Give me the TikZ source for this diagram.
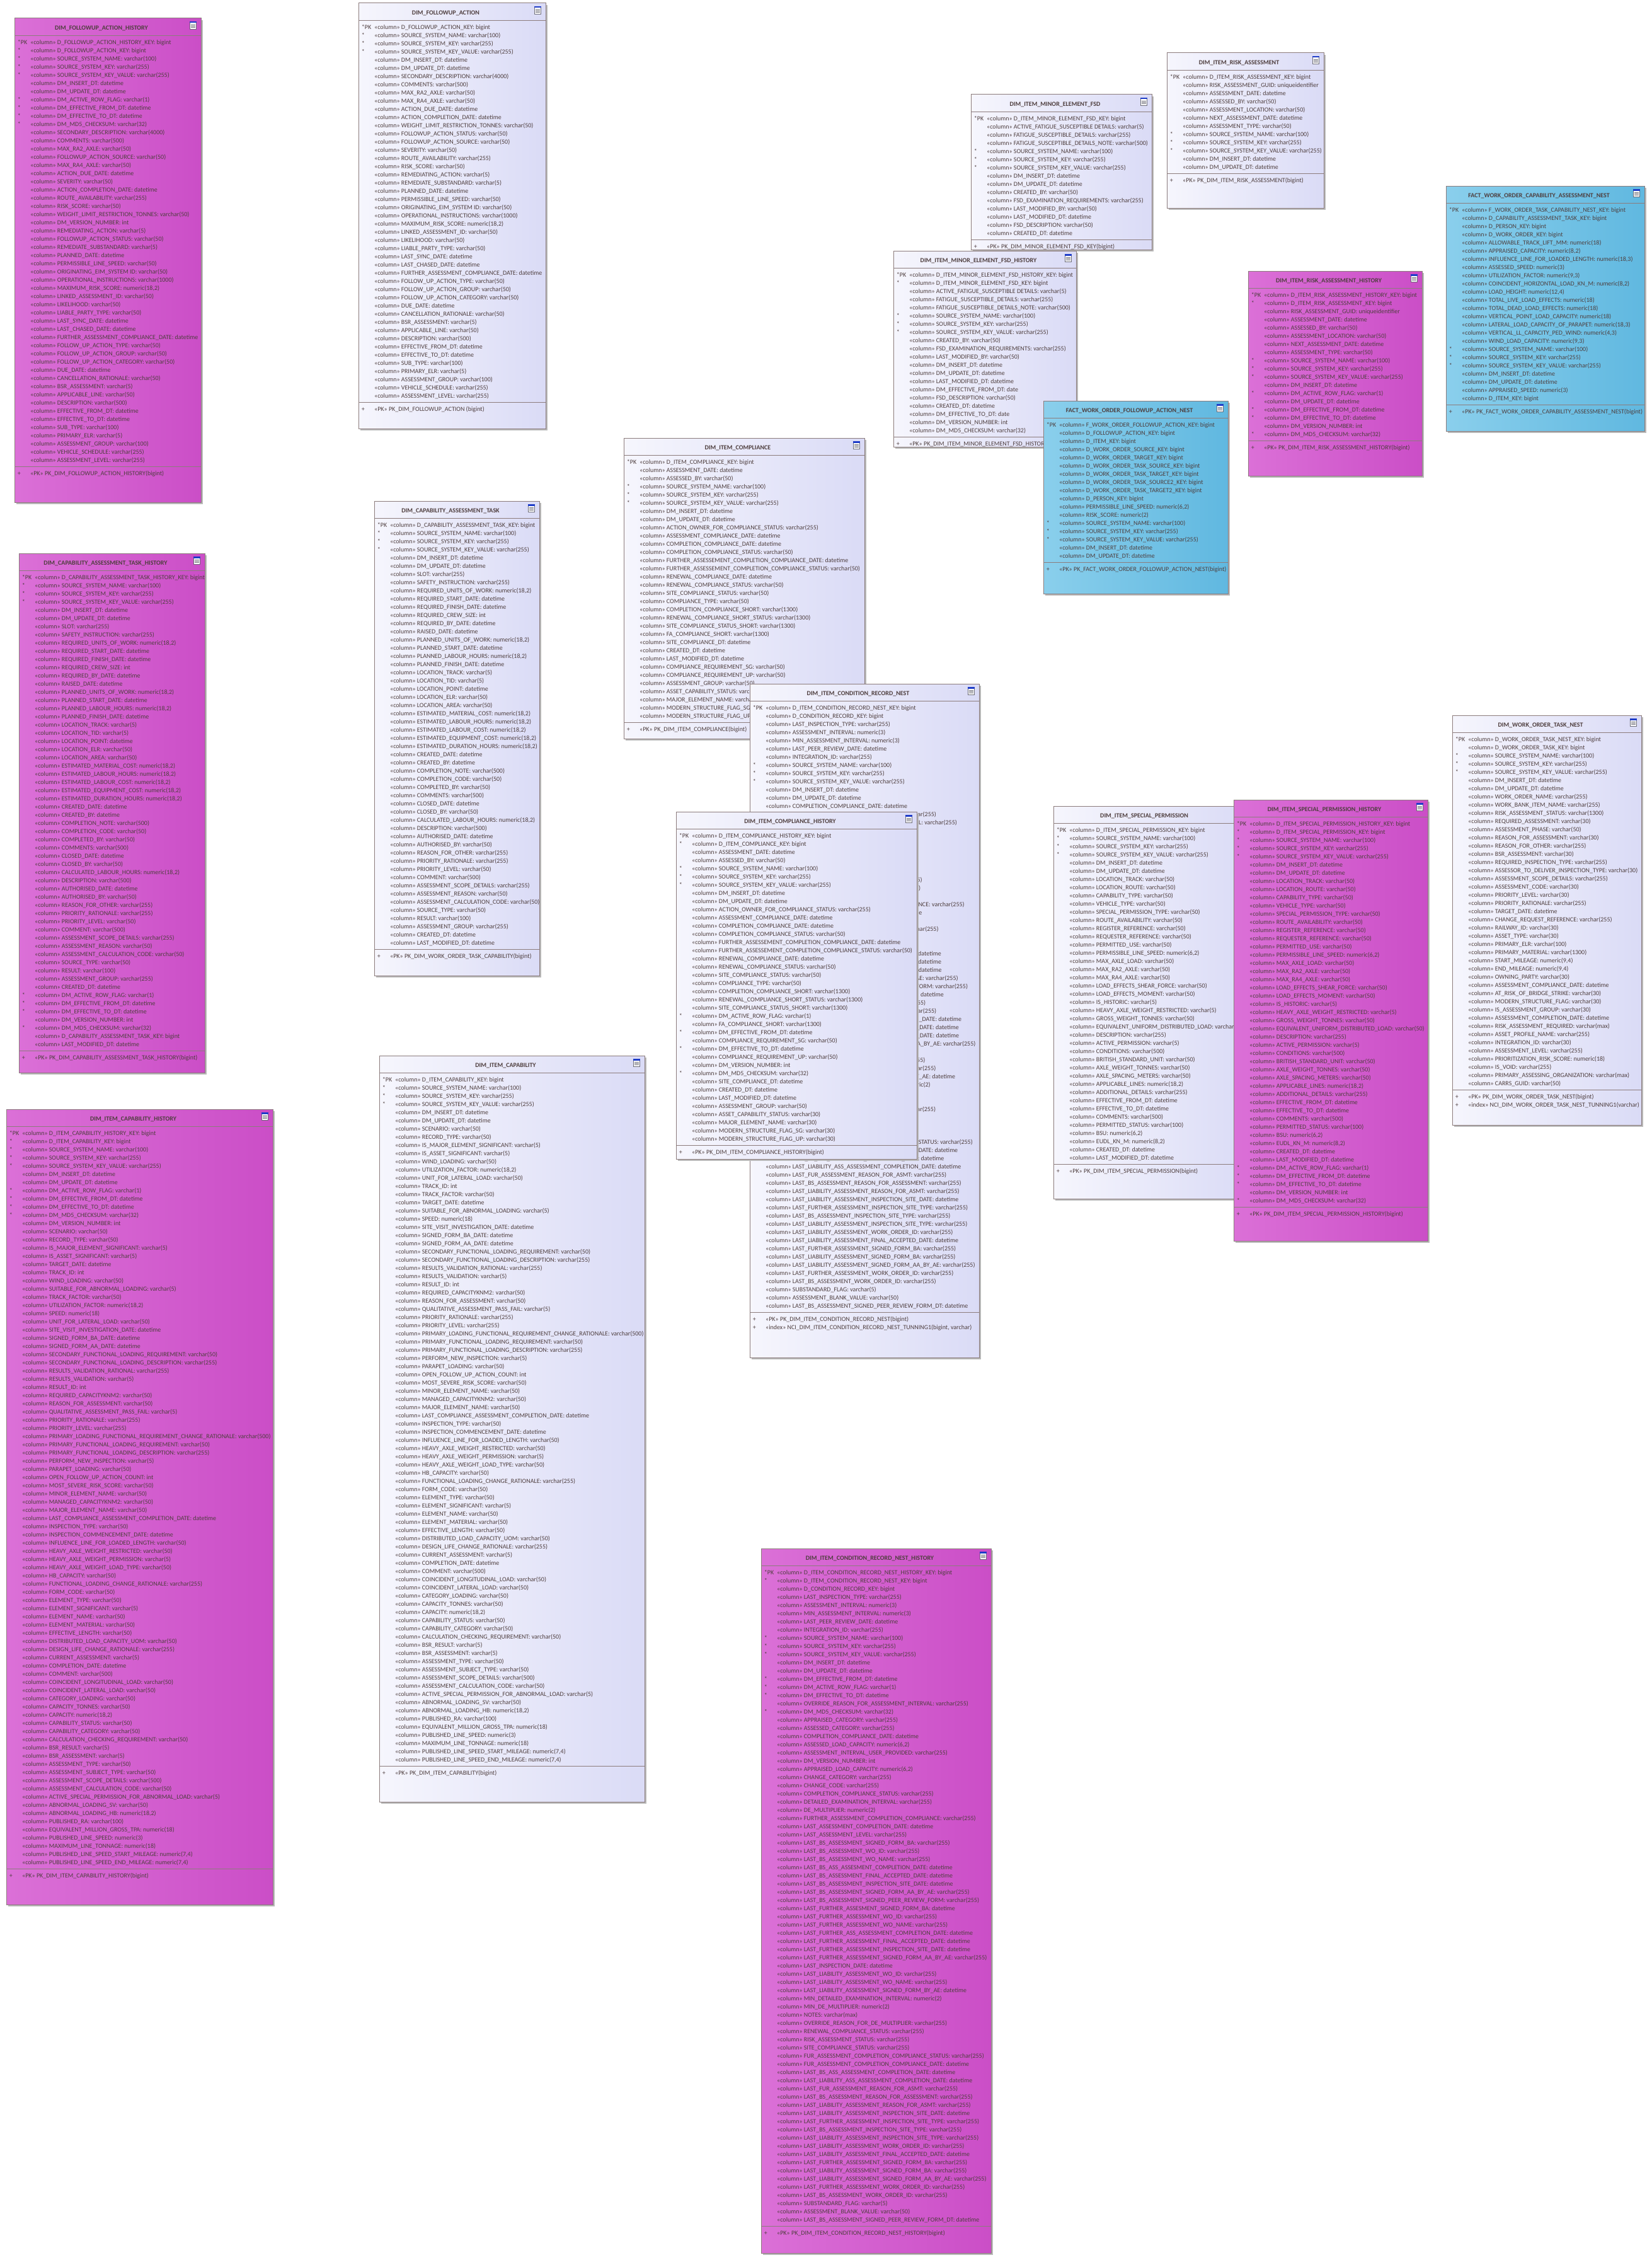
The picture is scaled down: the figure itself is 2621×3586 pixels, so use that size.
\documentclass[tikz,border=0pt]{standalone}
\usepackage{fontspec}
\setmainfont{Carlito}
\definecolor{lavL}{RGB}{246,246,253}
\definecolor{lavR}{RGB}{218,219,246}
\definecolor{magL}{RGB}{219,112,215}
\definecolor{magR}{RGB}{203,78,199}
\definecolor{cyaL}{RGB}{138,207,236}
\definecolor{cyaR}{RGB}{96,184,224}
\definecolor{borderc}{RGB}{140,124,124}
\definecolor{txtc}{RGB}{78,62,62}
\definecolor{shadowc}{RGB}{185,185,185}
\definecolor{iconblue}{RGB}{30,60,200}
\definecolor{iconframe}{RGB}{110,110,120}
\tikzset{
  tbox/.style={draw=borderc,line width=1pt,anchor=north west,inner sep=0pt,outer sep=0pt},
  lav/.style={left color=lavL,right color=lavR},
  mag/.style={left color=magL,right color=magR},
  cya/.style={left color=cyaL,right color=cyaR},
  sepline/.style={draw=borderc,line width=0.9pt},
  iconline/.style={draw=iconframe,line width=0.6pt},
  titletext/.style={anchor=base,inner sep=0pt,text=txtc,font=\fontsize{10}{13}\selectfont\bfseries},
  rowtext/.style={anchor=base west,inner sep=0pt,text=txtc,font=\fontsize{10}{13}\selectfont}
}
\newcommand\rA{\makebox[20.3pt][l]{}«column»\ }
\newcommand\rS{\makebox[20.3pt][l]{*}«column»\ }
\newcommand\rP{\makebox[20.3pt][l]{*PK}«column»\ }
\newcommand\rK{\makebox[20.3pt][l]{+}«PK»\ }
\newcommand\rI{\makebox[20.3pt][l]{+}«index»\ }
\newcommand\dbbox[8]{%
  \pgfmathsetmacro\dbw{#4-#2}%
  \pgfmathsetmacro\dbh{#5-#3}%
  \pgfmathsetmacro\dbs{#3+35+13*#8}%
  \pgfmathsetmacro\dbx{(#2+#4)/2-10}%
  \pgfmathsetmacro\dbi{#4-18}%
  \fill[shadowc] (#2+3,#3+3) rectangle (#4+3,#5+3);
  \node[tbox,#6,minimum width=\dbw pt,minimum height=\dbh pt] (#1) at (#2,#3) {};
  \draw[sepline] (#2,#3+27) -- (#4,#3+27) (#2,\dbs) -- (#4,\dbs);
  \node[titletext] (#1-title) at (\dbx,#3+18.3) {#7};
  \filldraw[fill=white,draw=iconframe,line width=0.7pt] (\dbi,#3+6) rectangle (\dbi+10.5,#3+17);
  \fill[iconblue] (\dbi,#3+5.3) rectangle (\dbi+10.5,#3+7.5);
  \draw[iconline] (\dbi+2,#3+10) -- (\dbi+8.5,#3+10) (\dbi+2,#3+12.3) -- (\dbi+8.5,#3+12.3) (\dbi+2,#3+14.6) -- (\dbi+8.5,#3+14.6);
}
\newcommand\dbrows[4]{%
  \node[rowtext] (#1-rows) at (#2+4.7,#3+41.3) {\begin{tabular}[t]{@{}l@{}}#4\end{tabular}};}
\newcommand\dbpk[5]{%
  \pgfmathsetmacro\dbp{#3+35+13*#4+14.3}%
  \node[rowtext] (#1-pk) at (#2+4.7,\dbp) {\begin{tabular}[t]{@{}l@{}}#5\end{tabular}};}
\begin{document}
\catcode`\_=12
\begin{tikzpicture}[x=1pt,y=-1pt]
\useasboundingbox (0,0) rectangle (2621,3586);
\fill[white] (0,0) rectangle (2621,3586);

% ---------- DIM_FOLLOWUP_ACTION_HISTORY
\dbbox{fah}{23}{29}{319}{797}{mag}{DIM_FOLLOWUP_ACTION_HISTORY}{52}
\dbrows{fah}{23}{29}{\rP D_FOLLOWUP_ACTION_HISTORY_KEY: bigint\\
\rS D_FOLLOWUP_ACTION_KEY: bigint\\
\rS SOURCE_SYSTEM_NAME: varchar(100)\\
\rS SOURCE_SYSTEM_KEY: varchar(255)\\
\rS SOURCE_SYSTEM_KEY_VALUE: varchar(255)\\
\rA DM_INSERT_DT: datetime\\
\rA DM_UPDATE_DT: datetime\\
\rS DM_ACTIVE_ROW_FLAG: varchar(1)\\
\rS DM_EFFECTIVE_FROM_DT: datetime\\
\rS DM_EFFECTIVE_TO_DT: datetime\\
\rS DM_MD5_CHECKSUM: varchar(32)\\
\rA SECONDARY_DESCRIPTION: varchar(4000)\\
\rA COMMENTS: varchar(500)\\
\rA MAX_RA2_AXLE: varchar(50)\\
\rA FOLLOWUP_ACTION_SOURCE: varchar(50)\\
\rA MAX_RA4_AXLE: varchar(50)\\
\rA ACTION_DUE_DATE: datetime\\
\rA SEVERITY: varchar(50)\\
\rA ACTION_COMPLETION_DATE: datetime\\
\rA ROUTE_AVAILABILITY: varchar(255)\\
\rA RISK_SCORE: varchar(50)\\
\rA WEIGHT_LIMIT_RESTRICTION_TONNES: varchar(50)\\
\rA DM_VERSION_NUMBER: int\\
\rA REMEDIATING_ACTION: varchar(5)\\
\rA FOLLOWUP_ACTION_STATUS: varchar(50)\\
\rA REMEDIATE_SUBSTANDARD: varchar(5)\\
\rA PLANNED_DATE: datetime\\
\rA PERMISSIBLE_LINE_SPEED: varchar(50)\\
\rA ORIGINATING_EIM_SYSTEM ID: varchar(50)\\
\rA OPERATIONAL_INSTRUCTIONS: varchar(1000)\\
\rA MAXIMUM_RISK_SCORE: numeric(18,2)\\
\rA LINKED_ASSESSMENT_ID: varchar(50)\\
\rA LIKELIHOOD: varchar(50)\\
\rA LIABLE_PARTY_TYPE: varchar(50)\\
\rA LAST_SYNC_DATE: datetime\\
\rA LAST_CHASED_DATE: datetime\\
\rA FURTHER_ASSESSMENT_COMPLIANCE_DATE: datetime\\
\rA FOLLOW_UP_ACTION_TYPE: varchar(50)\\
\rA FOLLOW_UP_ACTION_GROUP: varchar(50)\\
\rA FOLLOW_UP_ACTION_CATEGORY: varchar(50)\\
\rA DUE_DATE: datetime\\
\rA CANCELLATION_RATIONALE: varchar(50)\\
\rA BSR_ASSESSMENT: varchar(5)\\
\rA APPLICABLE_LINE: varchar(50)\\
\rA DESCRIPTION: varchar(500)\\
\rA EFFECTIVE_FROM_DT: datetime\\
\rA EFFECTIVE_TO_DT: datetime\\
\rA SUB_TYPE: varchar(100)\\
\rA PRIMARY_ELR: varchar(5)\\
\rA ASSESSMENT_GROUP: varchar(100)\\
\rA VEHICLE_SCHEDULE: varchar(255)\\
\rA ASSESSMENT_LEVEL: varchar(255)}
\dbpk{fah}{23}{29}{52}{\rK PK_DIM_FOLLOWUP_ACTION_HISTORY(bigint)}

% ---------- DIM_FOLLOWUP_ACTION
\dbbox{fa}{569}{5}{866}{680}{lav}{DIM_FOLLOWUP_ACTION}{46}
\dbrows{fa}{569}{5}{\rP D_FOLLOWUP_ACTION_KEY: bigint\\
\rS SOURCE_SYSTEM_NAME: varchar(100)\\
\rS SOURCE_SYSTEM_KEY: varchar(255)\\
\rS SOURCE_SYSTEM_KEY_VALUE: varchar(255)\\
\rA DM_INSERT_DT: datetime\\
\rA DM_UPDATE_DT: datetime\\
\rA SECONDARY_DESCRIPTION: varchar(4000)\\
\rA COMMENTS: varchar(500)\\
\rA MAX_RA2_AXLE: varchar(50)\\
\rA MAX_RA4_AXLE: varchar(50)\\
\rA ACTION_DUE_DATE: datetime\\
\rA ACTION_COMPLETION_DATE: datetime\\
\rA WEIGHT_LIMIT_RESTRICTION_TONNES: varchar(50)\\
\rA FOLLOWUP_ACTION_STATUS: varchar(50)\\
\rA FOLLOWUP_ACTION_SOURCE: varchar(50)\\
\rA SEVERITY: varchar(50)\\
\rA ROUTE_AVAILABILITY: varchar(255)\\
\rA RISK_SCORE: varchar(50)\\
\rA REMEDIATING_ACTION: varchar(5)\\
\rA REMEDIATE_SUBSTANDARD: varchar(5)\\
\rA PLANNED_DATE: datetime\\
\rA PERMISSIBLE_LINE_SPEED: varchar(50)\\
\rA ORIGINATING_EIM_SYSTEM ID: varchar(50)\\
\rA OPERATIONAL_INSTRUCTIONS: varchar(1000)\\
\rA MAXIMUM_RISK_SCORE: numeric(18,2)\\
\rA LINKED_ASSESSMENT_ID: varchar(50)\\
\rA LIKELIHOOD: varchar(50)\\
\rA LIABLE_PARTY_TYPE: varchar(50)\\
\rA LAST_SYNC_DATE: datetime\\
\rA LAST_CHASED_DATE: datetime\\
\rA FURTHER_ASSESSMENT_COMPLIANCE_DATE: datetime\\
\rA FOLLOW_UP_ACTION_TYPE: varchar(50)\\
\rA FOLLOW_UP_ACTION_GROUP: varchar(50)\\
\rA FOLLOW_UP_ACTION_CATEGORY: varchar(50)\\
\rA DUE_DATE: datetime\\
\rA CANCELLATION_RATIONALE: varchar(50)\\
\rA BSR_ASSESSMENT: varchar(5)\\
\rA APPLICABLE_LINE: varchar(50)\\
\rA DESCRIPTION: varchar(500)\\
\rA EFFECTIVE_FROM_DT: datetime\\
\rA EFFECTIVE_TO_DT: datetime\\
\rA SUB_TYPE: varchar(100)\\
\rA PRIMARY_ELR: varchar(5)\\
\rA ASSESSMENT_GROUP: varchar(100)\\
\rA VEHICLE_SCHEDULE: varchar(255)\\
\rA ASSESSMENT_LEVEL: varchar(255)}
\dbpk{fa}{569}{5}{46}{\rK PK_DIM_FOLLOWUP_ACTION (bigint)}

% ---------- DIM_ITEM_MINOR_ELEMENT_FSD
\dbbox{mfsd}{1541}{150}{1828}{396}{lav}{DIM_ITEM_MINOR_ELEMENT_FSD}{15}
\dbrows{mfsd}{1541}{150}{\rP D_ITEM_MINOR_ELEMENT_FSD_KEY: bigint\\
\rA ACTIVE_FATIGUE_SUSCEPTIBLE DETAILS: varchar(5)\\
\rA FATIGUE_SUSCEPTIBLE_DETAILS: varchar(255)\\
\rA FATIGUE_SUSCEPTIBLE_DETAILS_NOTE: varchar(500)\\
\rS SOURCE_SYSTEM_NAME: varchar(100)\\
\rS SOURCE_SYSTEM_KEY: varchar(255)\\
\rS SOURCE_SYSTEM_KEY_VALUE: varchar(255)\\
\rA DM_INSERT_DT: datetime\\
\rA DM_UPDATE_DT: datetime\\
\rA CREATED_BY: varchar(50)\\
\rA FSD_EXAMINATION_REQUIREMENTS: varchar(255)\\
\rA LAST_MODIFIED_BY: varchar(50)\\
\rA LAST_MODIFIED_DT: datetime\\
\rA FSD_DESCRIPTION: varchar(50)\\
\rA CREATED_DT: datetime}
\dbpk{mfsd}{1541}{150}{15}{\rK PK_DIM_MINOR_ELEMENT_FSD_KEY(bigint)}

% ---------- DIM_ITEM_RISK_ASSESSMENT
\dbbox{risk}{1852}{84}{2101}{330}{lav}{DIM_ITEM_RISK_ASSESSMENT}{12}
\dbrows{risk}{1852}{84}{\rP D_ITEM_RISK_ASSESSMENT_KEY: bigint\\
\rA RISK_ASSESSMENT_GUID: uniqueidentifier\\
\rA ASSESSMENT_DATE: datetime\\
\rA ASSESSED_BY: varchar(50)\\
\rA ASSESSMENT_LOCATION: varchar(50)\\
\rA NEXT_ASSESSMENT_DATE: datetime\\
\rA ASSESSMENT_TYPE: varchar(50)\\
\rS SOURCE_SYSTEM_NAME: varchar(100)\\
\rS SOURCE_SYSTEM_KEY: varchar(255)\\
\rS SOURCE_SYSTEM_KEY_VALUE: varchar(255)\\
\rA DM_INSERT_DT: datetime\\
\rA DM_UPDATE_DT: datetime}
\dbpk{risk}{1852}{84}{12}{\rK PK_DIM_ITEM_RISK_ASSESSMENT(bigint)}

% ---------- FACT_WORK_ORDER_CAPABILITY_ASSESSMENT_NEST
\dbbox{fcap}{2295}{295}{2610}{684}{cya}{FACT_WORK_ORDER_CAPABILITY_ASSESSMENT_NEST}{24}
\dbrows{fcap}{2295}{295}{\rP F_WORK_ORDER_TASK_CAPABILITY_NEST_KEY: bigint\\
\rA D_CAPABILITY_ASSESSMENT_TASK_KEY: bigint\\
\rA D_PERSON_KEY: bigint\\
\rA D_WORK_ORDER_KEY: bigint\\
\rA ALLOWABLE_TRACK_LIFT_MM: numeric(18)\\
\rA APPRAISED_CAPACITY: numeric(8,2)\\
\rA INFLUENCE_LINE_FOR_LOADED_LENGTH: numeric(18,3)\\
\rA ASSESSED_SPEED: numeric(3)\\
\rA UTILIZATION_FACTOR: numeric(9,3)\\
\rA COINCIDENT_HORIZONTAL_LOAD_KN_M: numeric(8,2)\\
\rA LOAD_HEIGHT: numeric(12,4)\\
\rA TOTAL_LIVE_LOAD_EFFECTS: numeric(18)\\
\rA TOTAL_DEAD_LOAD_EFFECTS: numeric(18)\\
\rA VERTICAL_POINT_LOAD_CAPACITY: numeric(18)\\
\rA LATERAL_LOAD_CAPACITY_OF_PARAPET: numeric(18,3)\\
\rA VERTICAL_LL_CAPACITY_PED_WIND: numeric(4,3)\\
\rA WIND_LOAD_CAPACITY: numeric(9,3)\\
\rS SOURCE_SYSTEM_NAME: varchar(100)\\
\rS SOURCE_SYSTEM_KEY: varchar(255)\\
\rS SOURCE_SYSTEM_KEY_VALUE: varchar(255)\\
\rA DM_INSERT_DT: datetime\\
\rA DM_UPDATE_DT: datetime\\
\rA APPRAISED_SPEED: numeric(3)\\
\rA D_ITEM_KEY: bigint}
\dbpk{fcap}{2295}{295}{24}{\rK PK_FACT_WORK_ORDER_CAPABILITY_ASSESSMENT_NEST(bigint)}

% ---------- DIM_ITEM_RISK_ASSESSMENT_HISTORY
\dbbox{riskh}{1981}{430}{2257}{755}{mag}{DIM_ITEM_RISK_ASSESSMENT_HISTORY}{18}
\dbrows{riskh}{1981}{430}{\rP D_ITEM_RISK_ASSESSMENT_HISTORY_KEY: bigint\\
\rS D_ITEM_RISK_ASSESSMENT_KEY: bigint\\
\rA RISK_ASSESSMENT_GUID: uniqueidentifier\\
\rA ASSESSMENT_DATE: datetime\\
\rA ASSESSED_BY: varchar(50)\\
\rA ASSESSMENT_LOCATION: varchar(50)\\
\rA NEXT_ASSESSMENT_DATE: datetime\\
\rA ASSESSMENT_TYPE: varchar(50)\\
\rS SOURCE_SYSTEM_NAME: varchar(100)\\
\rS SOURCE_SYSTEM_KEY: varchar(255)\\
\rS SOURCE_SYSTEM_KEY_VALUE: varchar(255)\\
\rA DM_INSERT_DT: datetime\\
\rS DM_ACTIVE_ROW_FLAG: varchar(1)\\
\rA DM_UPDATE_DT: datetime\\
\rS DM_EFFECTIVE_FROM_DT: datetime\\
\rS DM_EFFECTIVE_TO_DT: datetime\\
\rA DM_VERSION_NUMBER: int\\
\rS DM_MD5_CHECKSUM: varchar(32)}
\dbpk{riskh}{1981}{430}{18}{\rK PK_DIM_ITEM_RISK_ASSESSMENT_HISTORY(bigint)}

% ---------- DIM_ITEM_MINOR_ELEMENT_FSD_HISTORY
\dbbox{mfsdh}{1418}{398}{1708}{709}{lav}{DIM_ITEM_MINOR_ELEMENT_FSD_HISTORY}{20}
\dbrows{mfsdh}{1418}{398}{\rP D_ITEM_MINOR_ELEMENT_FSD_HISTORY_KEY: bigint\\
\rS D_ITEM_MINOR_ELEMENT_FSD_KEY: bigint\\
\rA ACTIVE_FATIGUE_SUSCEPTIBLE DETAILS: varchar(5)\\
\rA FATIGUE_SUSCEPTIBLE_DETAILS: varchar(255)\\
\rA FATIGUE_SUSCEPTIBLE_DETAILS_NOTE: varchar(500)\\
\rS SOURCE_SYSTEM_NAME: varchar(100)\\
\rS SOURCE_SYSTEM_KEY: varchar(255)\\
\rS SOURCE_SYSTEM_KEY_VALUE: varchar(255)\\
\rA CREATED_BY: varchar(50)\\
\rA FSD_EXAMINATION_REQUIREMENTS: varchar(255)\\
\rA LAST_MODIFIED_BY: varchar(50)\\
\rA DM_INSERT_DT: datetime\\
\rA DM_UPDATE_DT: datetime\\
\rA LAST_MODIFIED_DT: datetime\\
\rA DM_EFFECTIVE_FROM_DT: date\\
\rA FSD_DESCRIPTION: varchar(50)\\
\rA CREATED_DT: datetime\\
\rA DM_EFFECTIVE_TO_DT: date\\
\rA DM_VERSION_NUMBER: int\\
\rA DM_MD5_CHECKSUM: varchar(32)}
\dbpk{mfsdh}{1418}{398}{20}{\rK PK_DIM_ITEM_MINOR_ELEMENT_FSD_HISTORY(bigint)}

% ---------- FACT_WORK_ORDER_FOLLOWUP_ACTION_NEST
\dbbox{ffu}{1656}{636}{1949}{942}{cya}{FACT_WORK_ORDER_FOLLOWUP_ACTION_NEST}{17}
\dbrows{ffu}{1656}{636}{\rP F_WORK_ORDER_FOLLOWUP_ACTION_KEY: bigint\\
\rA D_FOLLOWUP_ACTION_KEY: bigint\\
\rA D_ITEM_KEY: bigint\\
\rA D_WORK_ORDER_SOURCE_KEY: bigint\\
\rA D_WORK_ORDER_TARGET_KEY: bigint\\
\rA D_WORK_ORDER_TASK_SOURCE_KEY: bigint\\
\rA D_WORK_ORDER_TASK_TARGET_KEY: bigint\\
\rA D_WORK_ORDER_TASK_SOURCE2_KEY: bigint\\
\rA D_WORK_ORDER_TASK_TARGET2_KEY: bigint\\
\rA D_PERSON_KEY: bigint\\
\rA PERMISSIBLE_LINE_SPEED: numeric(6,2)\\
\rA RISK_SCORE: numeric(2)\\
\rS SOURCE_SYSTEM_NAME: varchar(100)\\
\rS SOURCE_SYSTEM_KEY: varchar(255)\\
\rS SOURCE_SYSTEM_KEY_VALUE: varchar(255)\\
\rA DM_INSERT_DT: datetime\\
\rA DM_UPDATE_DT: datetime}
\dbpk{ffu}{1656}{636}{17}{\rK PK_FACT_WORK_ORDER_FOLLOWUP_ACTION_NEST(bigint)}

% ---------- DIM_CAPABILITY_ASSESSMENT_TASK
\dbbox{cat}{594}{795}{856}{1548}{lav}{DIM_CAPABILITY_ASSESSMENT_TASK}{52}
\dbrows{cat}{594}{795}{\rP D_CAPABILITY_ASSESSMENT_TASK_KEY: bigint\\
\rS SOURCE_SYSTEM_NAME: varchar(100)\\
\rS SOURCE_SYSTEM_KEY: varchar(255)\\
\rS SOURCE_SYSTEM_KEY_VALUE: varchar(255)\\
\rA DM_INSERT_DT: datetime\\
\rA DM_UPDATE_DT: datetime\\
\rA SLOT: varchar(255)\\
\rA SAFETY_INSTRUCTION: varchar(255)\\
\rA REQUIRED_UNITS_OF_WORK: numeric(18,2)\\
\rA REQUIRED_START_DATE: datetime\\
\rA REQUIRED_FINISH_DATE: datetime\\
\rA REQUIRED_CREW_SIZE: int\\
\rA REQUIRED_BY_DATE: datetime\\
\rA RAISED_DATE: datetime\\
\rA PLANNED_UNITS_OF_WORK: numeric(18,2)\\
\rA PLANNED_START_DATE: datetime\\
\rA PLANNED_LABOUR_HOURS: numeric(18,2)\\
\rA PLANNED_FINISH_DATE: datetime\\
\rA LOCATION_TRACK: varchar(5)\\
\rA LOCATION_TID: varchar(5)\\
\rA LOCATION_POINT: datetime\\
\rA LOCATION_ELR: varchar(50)\\
\rA LOCATION_AREA: varchar(50)\\
\rA ESTIMATED_MATERIAL_COST: numeric(18,2)\\
\rA ESTIMATED_LABOUR_HOURS: numeric(18,2)\\
\rA ESTIMATED_LABOUR_COST: numeric(18,2)\\
\rA ESTIMATED_EQUIPMENT_COST: numeric(18,2)\\
\rA ESTIMATED_DURATION_HOURS: numeric(18,2)\\
\rA CREATED_DATE: datetime\\
\rA CREATED_BY: datetime\\
\rA COMPLETION_NOTE: varchar(500)\\
\rA COMPLETION_CODE: varchar(50)\\
\rA COMPLETED_BY: varchar(50)\\
\rA COMMENTS: varchar(500)\\
\rA CLOSED_DATE: datetime\\
\rA CLOSED_BY: varchar(50)\\
\rA CALCULATED_LABOUR_HOURS: numeric(18,2)\\
\rA DESCRIPTION: varchar(500)\\
\rA AUTHORISED_DATE: datetime\\
\rA AUTHORISED_BY: varchar(50)\\
\rA REASON_FOR_OTHER: varchar(255)\\
\rA PRIORITY_RATIONALE: varchar(255)\\
\rA PRIORITY_LEVEL: varchar(50)\\
\rA COMMENT: varchar(500)\\
\rA ASSESSMENT_SCOPE_DETAILS: varchar(255)\\
\rA ASSESSMENT_REASON: varchar(50)\\
\rA ASSESSMENT_CALCULATION_CODE: varchar(50)\\
\rA SOURCE_TYPE: varchar(50)\\
\rA RESULT: varchar(100)\\
\rA ASSESSMENT_GROUP: varchar(255)\\
\rA CREATED_DT: datetime\\
\rA LAST_MODIFIED_DT: datetime}
\dbpk{cat}{594}{795}{52}{\rK PK_DIM_WORK_ORDER_TASK_CAPABILITY(bigint)}

% ---------- DIM_CAPABILITY_ASSESSMENT_TASK_HISTORY
\dbbox{cath}{30}{878}{325}{1702}{mag}{DIM_CAPABILITY_ASSESSMENT_TASK_HISTORY}{58}
\dbrows{cath}{30}{878}{\rP D_CAPABILITY_ASSESSMENT_TASK_HISTORY_KEY: bigint\\
\rS SOURCE_SYSTEM_NAME: varchar(100)\\
\rS SOURCE_SYSTEM_KEY: varchar(255)\\
\rS SOURCE_SYSTEM_KEY_VALUE: varchar(255)\\
\rA DM_INSERT_DT: datetime\\
\rA DM_UPDATE_DT: datetime\\
\rA SLOT: varchar(255)\\
\rA SAFETY_INSTRUCTION: varchar(255)\\
\rA REQUIRED_UNITS_OF_WORK: numeric(18,2)\\
\rA REQUIRED_START_DATE: datetime\\
\rA REQUIRED_FINISH_DATE: datetime\\
\rA REQUIRED_CREW_SIZE: int\\
\rA REQUIRED_BY_DATE: datetime\\
\rA RAISED_DATE: datetime\\
\rA PLANNED_UNITS_OF_WORK: numeric(18,2)\\
\rA PLANNED_START_DATE: datetime\\
\rA PLANNED_LABOUR_HOURS: numeric(18,2)\\
\rA PLANNED_FINISH_DATE: datetime\\
\rA LOCATION_TRACK: varchar(5)\\
\rA LOCATION_TID: varchar(5)\\
\rA LOCATION_POINT: datetime\\
\rA LOCATION_ELR: varchar(50)\\
\rA LOCATION_AREA: varchar(50)\\
\rA ESTIMATED_MATERIAL_COST: numeric(18,2)\\
\rA ESTIMATED_LABOUR_HOURS: numeric(18,2)\\
\rA ESTIMATED_LABOUR_COST: numeric(18,2)\\
\rA ESTIMATED_EQUIPMENT_COST: numeric(18,2)\\
\rA ESTIMATED_DURATION_HOURS: numeric(18,2)\\
\rA CREATED_DATE: datetime\\
\rA CREATED_BY: datetime\\
\rA COMPLETION_NOTE: varchar(500)\\
\rA COMPLETION_CODE: varchar(50)\\
\rA COMPLETED_BY: varchar(50)\\
\rA COMMENTS: varchar(500)\\
\rA CLOSED_DATE: datetime\\
\rA CLOSED_BY: varchar(50)\\
\rA CALCULATED_LABOUR_HOURS: numeric(18,2)\\
\rA DESCRIPTION: varchar(500)\\
\rA AUTHORISED_DATE: datetime\\
\rA AUTHORISED_BY: varchar(50)\\
\rA REASON_FOR_OTHER: varchar(255)\\
\rA PRIORITY_RATIONALE: varchar(255)\\
\rA PRIORITY_LEVEL: varchar(50)\\
\rA COMMENT: varchar(500)\\
\rA ASSESSMENT_SCOPE_DETAILS: varchar(255)\\
\rA ASSESSMENT_REASON: varchar(50)\\
\rA ASSESSMENT_CALCULATION_CODE: varchar(50)\\
\rA SOURCE_TYPE: varchar(50)\\
\rA RESULT: varchar(100)\\
\rA ASSESSMENT_GROUP: varchar(255)\\
\rA CREATED_DT: datetime\\
\rS DM_ACTIVE_ROW_FLAG: varchar(1)\\
\rS DM_EFFECTIVE_FROM_DT: datetime\\
\rS DM_EFFECTIVE_TO_DT: datetime\\
\rA DM_VERSION_NUMBER: int\\
\rS DM_MD5_CHECKSUM: varchar(32)\\
\rA D_CAPABILITY_ASSESSMENT_TASK_KEY: bigint\\
\rA LAST_MODIFIED_DT: datetime}
\dbpk{cath}{30}{878}{58}{\rK PK_DIM_CAPABILITY_ASSESSMENT_TASK_HISTORY(bigint)}

% ---------- DIM_ITEM_COMPLIANCE
\dbbox{comp}{990}{695}{1372}{1172}{lav}{DIM_ITEM_COMPLIANCE}{32}
\dbrows{comp}{990}{695}{\rP D_ITEM_COMPLIANCE_KEY: bigint\\
\rA ASSESSMENT_DATE: datetime\\
\rA ASSESSED_BY: varchar(50)\\
\rS SOURCE_SYSTEM_NAME: varchar(100)\\
\rS SOURCE_SYSTEM_KEY: varchar(255)\\
\rS SOURCE_SYSTEM_KEY_VALUE: varchar(255)\\
\rA DM_INSERT_DT: datetime\\
\rA DM_UPDATE_DT: datetime\\
\rA ACTION_OWNER_FOR_COMPLIANCE_STATUS: varchar(255)\\
\rA ASSESSMENT_COMPLIANCE_DATE: datetime\\
\rA COMPLETION_COMPLIANCE_DATE: datetime\\
\rA COMPLETION_COMPLIANCE_STATUS: varchar(50)\\
\rA FURTHER_ASSESSEMENT_COMPLETION_COMPLIANCE_DATE: datetime\\
\rA FURTHER_ASSESSEMENT_COMPLETION_COMPLIANCE_STATUS: varchar(50)\\
\rA RENEWAL_COMPLIANCE_DATE: datetime\\
\rA RENEWAL_COMPLIANCE_STATUS: varchar(50)\\
\rA SITE_COMPLIANCE_STATUS: varchar(50)\\
\rA COMPLIANCE_TYPE: varchar(50)\\
\rA COMPLETION_COMPLIANCE_SHORT: varchar(1300)\\
\rA RENEWAL_COMPLIANCE_SHORT_STATUS: varchar(1300)\\
\rA SITE_COMPLIANCE_STATUS_SHORT: varchar(1300)\\
\rA FA_COMPLIANCE_SHORT: varchar(1300)\\
\rA SITE_COMPLIANCE_DT: datetime\\
\rA CREATED_DT: datetime\\
\rA LAST_MODIFIED_DT: datetime\\
\rA COMPLIANCE_REQUIREMENT_SG: varchar(50)\\
\rA COMPLIANCE_REQUIREMENT_UP: varchar(50)\\
\rA ASSESSMENT_GROUP: varchar(50)\\
\rA ASSET_CAPABILITY_STATUS: varchar(30)\\
\rA MAJOR_ELEMENT_NAME: varchar(30)\\
\rA MODERN_STRUCTURE_FLAG_SG: varchar(30)\\
\rA MODERN_STRUCTURE_FLAG_UP: varchar(30)}
\dbpk{comp}{990}{695}{32}{\rK PK_DIM_ITEM_COMPLIANCE(bigint)}

% ---------- DIM_ITEM_CONDITION_RECORD_NEST
\dbbox{cond}{1190}{1085}{1554}{2154}{lav}{DIM_ITEM_CONDITION_RECORD_NEST}{74}
\dbrows{cond}{1190}{1085}{\rP D_ITEM_CONDITION_RECORD_NEST_KEY: bigint\\
\rA D_CONDITION_RECORD_KEY: bigint\\
\rA LAST_INSPECTION_TYPE: varchar(255)\\
\rA ASSESSMENT_INTERVAL: numeric(3)\\
\rA MIN_ASSESSMENT_INTERVAL: numeric(3)\\
\rA LAST_PEER_REVIEW_DATE: datetime\\
\rA INTEGRATION_ID: varchar(255)\\
\rS SOURCE_SYSTEM_NAME: varchar(100)\\
\rS SOURCE_SYSTEM_KEY: varchar(255)\\
\rS SOURCE_SYSTEM_KEY_VALUE: varchar(255)\\
\rA DM_INSERT_DT: datetime\\
\rA DM_UPDATE_DT: datetime\\
\rA COMPLETION_COMPLIANCE_DATE: datetime\\
\rA ASSESSMENT_INTERVAL_USER_PROVIDED: varchar(255)\\
\rA OVERRIDE_REASON_FOR_ASSESSMENT_INTERVAL: varchar(255)\\
\rA APPRAISED_CATEGORY: varchar(255)\\
\rA ASSESSED_CATEGORY: varchar(255)\\
\rA ASSESSED_LOAD_CAPACITY: numeric(6,2)\\
\rA APPRAISED_LOAD_CAPACITY: numeric(6,2)\\
\rA CHANGE_CATEGORY: varchar(255)\\
\rA CHANGE_CODE: varchar(255)\\
\rA COMPLETION_COMPLIANCE_STATUS: varchar(255)\\
\rA DETAILED_EXAMINATION_INTERVAL: varchar(255)\\
\rA DE_MULTIPLIER: numeric(2)\\
\rA FURTHER_ASSESSMENT_COMPLETION_COMPLIANCE: varchar(255)\\
\rA LAST_ASSESSMENT_COMPLETION_DATE: datetime\\
\rA LAST_ASSESSMENT_LEVEL: varchar(255)\\
\rA LAST_BS_ASSESSMENT_SIGNED_FORM_BA: varchar(255)\\
\rA LAST_BS_ASSESSMENT_WO_ID: varchar(255)\\
\rA LAST_BS_ASSESSMENT_WO_NAME: varchar(255)\\
\rA LAST_BS_ASS_ASSESMENT_COMPLETION_DATE: datetime\\
\rA LAST_BS_ASSESSMENT_FINAL_ACCEPTED_DATE: datetime\\
\rA LAST_BS_ASSESSMENT_INSPECTION_SITE_DATE: datetime\\
\rA LAST_BS_ASSESSMENT_SIGNED_FORM_AA_BY_AE: varchar(255)\\
\rA LAST_BS_ASSESSMENT_SIGNED_PEER_REVIEW_FORM: varchar(255)\\
\rA LAST_FURTHER_ASSESMENT_SIGNED_FORM_BA: datetime\\
\rA LAST_FURTHER_ASSESSMENT_WO_ID: varchar(255)\\
\rA LAST_FURTHER_ASSESSMENT_WO_NAME: varchar(255)\\
\rA LAST_FURTHER_ASS_ASSESSMENT_COMPLETION_DATE: datetime\\
\rA LAST_FURTHER_ASSESSMENT_FINAL_ACCEPTED_DATE: datetime\\
\rA LAST_FURTHER_ASSESSMENT_INSPECTION_SITE_DATE: datetime\\
\rA LAST_FURTHER_ASSESSMENT_SIGNED_FORM_AA_BY_AE: varchar(255)\\
\rA LAST_INSPECTION_DATE: datetime\\
\rA LAST_LIABILITY_ASSESSMENT_WO_ID: varchar(255)\\
\rA LAST_LIABILITY_ASSESSMENT_WO_NAME: varchar(255)\\
\rA LAST_LIABILITY_ASSESSMENT_SIGNED_FORM_BY_AE: datetime\\
\rA MIN_DETAILED_EXAMINATION_INTERVAL: numeric(2)\\
\rA MIN_DE_MULTIPLIER: numeric(2)\\
\rA NOTES: varchar(max)\\
\rA OVERRIDE_REASON_FOR_DE_MULTIPLIER: varchar(255)\\
\rA RENEWAL_COMPLIANCE_STATUS: varchar(255)\\
\rA RISK_ASSESSMENT_STATUS: varchar(255)\\
\rA SITE_COMPLIANCE_STATUS: varchar(255)\\
\rA FUR_ASSESSMENT_COMPLETION_COMPLIANCE_STATUS: varchar(255)\\
\rA FUR_ASSESSMENT_COMPLETION_COMPLIANCE_DATE: datetime\\
\rA LAST_BS_ASS_ASSESSMENT_COMPLETION_DATE: datetime\\
\rA LAST_LIABILITY_ASS_ASSESSMENT_COMPLETION_DATE: datetime\\
\rA LAST_FUR_ASSESSMENT_REASON_FOR_ASMT: varchar(255)\\
\rA LAST_BS_ASSESSMENT_REASON_FOR_ASSESSMENT: varchar(255)\\
\rA LAST_LIABILITY_ASSESSMENT_REASON_FOR_ASMT: varchar(255)\\
\rA LAST_LIABILITY_ASSESSMENT_INSPECTION_SITE_DATE: datetime\\
\rA LAST_FURTHER_ASSESSMENT_INSPECTION_SITE_TYPE: varchar(255)\\
\rA LAST_BS_ASSESSMENT_INSPECTION_SITE_TYPE: varchar(255)\\
\rA LAST_LIABILITY_ASSESSMENT_INSPECTION_SITE_TYPE: varchar(255)\\
\rA LAST_LIABILITY_ASSESSMENT_WORK_ORDER_ID: varchar(255)\\
\rA LAST_LIABILITY_ASSESSMENT_FINAL_ACCEPTED_DATE: datetime\\
\rA LAST_FURTHER_ASSESSMENT_SIGNED_FORM_BA: varchar(255)\\
\rA LAST_LIABILITY_ASSESSMENT_SIGNED_FORM_BA: varchar(255)\\
\rA LAST_LIABILITY_ASSESSMENT_SIGNED_FORM_AA_BY_AE: varchar(255)\\
\rA LAST_FURTHER_ASSESSMENT_WORK_ORDER_ID: varchar(255)\\
\rA LAST_BS_ASSESSMENT_WORK_ORDER_ID: varchar(255)\\
\rA SUBSTANDARD_FLAG: varchar(5)\\
\rA ASSESSMENT_BLANK_VALUE: varchar(50)\\
\rA LAST_BS_ASSESSMENT_SIGNED_PEER_REVIEW_FORM_DT: datetime}
\dbpk{cond}{1190}{1085}{74}{\rK PK_DIM_ITEM_CONDITION_RECORD_NEST(bigint)\\
\rI NCI_DIM_ITEM_CONDITION_RECORD_NEST_TUNNING1(bigint, varchar)}

% ---------- DIM_ITEM_COMPLIANCE_HISTORY
\dbbox{comph}{1073}{1288}{1455}{1839}{lav}{DIM_ITEM_COMPLIANCE_HISTORY}{38}
\dbrows{comph}{1073}{1288}{\rP D_ITEM_COMPLIANCE_HISTORY_KEY: bigint\\
\rS D_ITEM_COMPLIANCE_KEY: bigint\\
\rA ASSESSMENT_DATE: datetime\\
\rA ASSESSED_BY: varchar(50)\\
\rS SOURCE_SYSTEM_NAME: varchar(100)\\
\rS SOURCE_SYSTEM_KEY: varchar(255)\\
\rS SOURCE_SYSTEM_KEY_VALUE: varchar(255)\\
\rA DM_INSERT_DT: datetime\\
\rA DM_UPDATE_DT: datetime\\
\rA ACTION_OWNER_FOR_COMPLIANCE_STATUS: varchar(255)\\
\rA ASSESSMENT_COMPLIANCE_DATE: datetime\\
\rA COMPLETION_COMPLIANCE_DATE: datetime\\
\rA COMPLETION_COMPLIANCE_STATUS: varchar(50)\\
\rA FURTHER_ASSESSEMENT_COMPLETION_COMPLIANCE_DATE: datetime\\
\rA FURTHER_ASSESSEMENT_COMPLETION_COMPLIANCE_STATUS: varchar(50)\\
\rA RENEWAL_COMPLIANCE_DATE: datetime\\
\rA RENEWAL_COMPLIANCE_STATUS: varchar(50)\\
\rA SITE_COMPLIANCE_STATUS: varchar(50)\\
\rA COMPLIANCE_TYPE: varchar(50)\\
\rA COMPLETION_COMPLIANCE_SHORT: varchar(1300)\\
\rA RENEWAL_COMPLIANCE_SHORT_STATUS: varchar(1300)\\
\rA SITE_COMPLIANCE_STATUS_SHORT: varchar(1300)\\
\rS DM_ACTIVE_ROW_FLAG: varchar(1)\\
\rA FA_COMPLIANCE_SHORT: varchar(1300)\\
\rS DM_EFFECTIVE_FROM_DT: datetime\\
\rA COMPLIANCE_REQUIREMENT_SG: varchar(50)\\
\rS DM_EFFECTIVE_TO_DT: datetime\\
\rA COMPLIANCE_REQUIREMENT_UP: varchar(50)\\
\rA DM_VERSION_NUMBER: int\\
\rS DM_MD5_CHECKSUM: varchar(32)\\
\rA SITE_COMPLIANCE_DT: datetime\\
\rA CREATED_DT: datetime\\
\rA LAST_MODIFIED_DT: datetime\\
\rA ASSESSMENT_GROUP: varchar(50)\\
\rA ASSET_CAPABILITY_STATUS: varchar(30)\\
\rA MAJOR_ELEMENT_NAME: varchar(30)\\
\rA MODERN_STRUCTURE_FLAG_SG: varchar(30)\\
\rA MODERN_STRUCTURE_FLAG_UP: varchar(30)}
\dbpk{comph}{1073}{1288}{38}{\rK PK_DIM_ITEM_COMPLIANCE_HISTORY(bigint)}

% ---------- DIM_ITEM_SPECIAL_PERMISSION
\dbbox{sp}{1672}{1279}{1980}{1902}{lav}{DIM_ITEM_SPECIAL_PERMISSION}{41}
\dbrows{sp}{1672}{1279}{\rP D_ITEM_SPECIAL_PERMISSION_KEY: bigint\\
\rS SOURCE_SYSTEM_NAME: varchar(100)\\
\rS SOURCE_SYSTEM_KEY: varchar(255)\\
\rS SOURCE_SYSTEM_KEY_VALUE: varchar(255)\\
\rA DM_INSERT_DT: datetime\\
\rA DM_UPDATE_DT: datetime\\
\rA LOCATION_TRACK: varchar(50)\\
\rA LOCATION_ROUTE: varchar(50)\\
\rA CAPABILITY_TYPE: varchar(50)\\
\rA VEHICLE_TYPE: varchar(50)\\
\rA SPECIAL_PERMISSION_TYPE: varchar(50)\\
\rA ROUTE_AVAILABILITY: varchar(50)\\
\rA REGISTER_REFERENCE: varchar(50)\\
\rA REQUESTER_REFERENCE: varchar(50)\\
\rA PERMITTED_USE: varchar(50)\\
\rA PERMISSIBLE_LINE_SPEED: numeric(6,2)\\
\rA MAX_AXLE_LOAD: varchar(50)\\
\rA MAX_RA2_AXLE: varchar(50)\\
\rA MAX_RA4_AXLE: varchar(50)\\
\rA LOAD_EFFECTS_SHEAR_FORCE: varchar(50)\\
\rA LOAD_EFFECTS_MOMENT: varchar(50)\\
\rA IS_HISTORIC: varchar(5)\\
\rA HEAVY_AXLE_WEIGHT_RESTRICTED: varchar(5)\\
\rA GROSS_WEIGHT_TONNES: varchar(50)\\
\rA EQUIVALENT_UNIFORM_DISTRIBUTED_LOAD: varchar(50)\\
\rA DESCRIPTION: varchar(255)\\
\rA ACTIVE_PERMISSION: varchar(5)\\
\rA CONDITIONS: varchar(500)\\
\rA BRITISH_STANDARD_UNIT: varchar(50)\\
\rA AXLE_WEIGHT_TONNES: varchar(50)\\
\rA AXLE_SPACING_METERS: varchar(50)\\
\rA APPLICABLE_LINES: numeric(18,2)\\
\rA ADDITIONAL_DETAILS: varchar(255)\\
\rA EFFECTIVE_FROM_DT: datetime\\
\rA EFFECTIVE_TO_DT: datetime\\
\rA COMMENTS: varchar(500)\\
\rA PERMITTED_STATUS: varchar(100)\\
\rA BSU: numeric(6,2)\\
\rA EUDL_KN_M: numeric(8,2)\\
\rA CREATED_DT: datetime\\
\rA LAST_MODIFIED_DT: datetime}
\dbpk{sp}{1672}{1279}{41}{\rK PK_DIM_ITEM_SPECIAL_PERMISSION(bigint)}

% ---------- DIM_ITEM_SPECIAL_PERMISSION_HISTORY
\dbbox{sph}{1958}{1269}{2266}{1969}{mag}{DIM_ITEM_SPECIAL_PERMISSION_HISTORY}{47}
\dbrows{sph}{1958}{1269}{\rP D_ITEM_SPECIAL_PERMISSION_HISTORY_KEY: bigint\\
\rS D_ITEM_SPECIAL_PERMISSION_KEY: bigint\\
\rS SOURCE_SYSTEM_NAME: varchar(100)\\
\rS SOURCE_SYSTEM_KEY: varchar(255)\\
\rS SOURCE_SYSTEM_KEY_VALUE: varchar(255)\\
\rA DM_INSERT_DT: datetime\\
\rA DM_UPDATE_DT: datetime\\
\rA LOCATION_TRACK: varchar(50)\\
\rA LOCATION_ROUTE: varchar(50)\\
\rA CAPABILITY_TYPE: varchar(50)\\
\rA VEHICLE_TYPE: varchar(50)\\
\rA SPECIAL_PERMISSION_TYPE: varchar(50)\\
\rA ROUTE_AVAILABILITY: varchar(50)\\
\rA REGISTER_REFERENCE: varchar(50)\\
\rA REQUESTER_REFERENCE: varchar(50)\\
\rA PERMITTED_USE: varchar(50)\\
\rA PERMISSIBLE_LINE_SPEED: numeric(6,2)\\
\rA MAX_AXLE_LOAD: varchar(50)\\
\rA MAX_RA2_AXLE: varchar(50)\\
\rA MAX_RA4_AXLE: varchar(50)\\
\rA LOAD_EFFECTS_SHEAR_FORCE: varchar(50)\\
\rA LOAD_EFFECTS_MOMENT: varchar(50)\\
\rA IS_HISTORIC: varchar(5)\\
\rA HEAVY_AXLE_WEIGHT_RESTRICTED: varchar(5)\\
\rA GROSS_WEIGHT_TONNES: varchar(50)\\
\rA EQUIVALENT_UNIFORM_DISTRIBUTED_LOAD: varchar(50)\\
\rA DESCRIPTION: varchar(255)\\
\rA ACTIVE_PERMISSION: varchar(5)\\
\rA CONDITIONS: varchar(500)\\
\rA BRITISH_STANDARD_UNIT: varchar(50)\\
\rA AXLE_WEIGHT_TONNES: varchar(50)\\
\rA AXLE_SPACING_METERS: varchar(50)\\
\rA APPLICABLE_LINES: numeric(18,2)\\
\rA ADDITIONAL_DETAILS: varchar(255)\\
\rA EFFECTIVE_FROM_DT: datetime\\
\rA EFFECTIVE_TO_DT: datetime\\
\rA COMMENTS: varchar(500)\\
\rA PERMITTED_STATUS: varchar(100)\\
\rA BSU: numeric(6,2)\\
\rA EUDL_KN_M: numeric(8,2)\\
\rA CREATED_DT: datetime\\
\rA LAST_MODIFIED_DT: datetime\\
\rS DM_ACTIVE_ROW_FLAG: varchar(1)\\
\rS DM_EFFECTIVE_FROM_DT: datetime\\
\rS DM_EFFECTIVE_TO_DT: datetime\\
\rA DM_VERSION_NUMBER: int\\
\rS DM_MD5_CHECKSUM: varchar(32)}
\dbpk{sph}{1958}{1269}{47}{\rK PK_DIM_ITEM_SPECIAL_PERMISSION_HISTORY(bigint)}

% ---------- DIM_WORK_ORDER_TASK_NEST
\dbbox{wo}{2305}{1135}{2605}{1785}{lav}{DIM_WORK_ORDER_TASK_NEST}{43}
\dbrows{wo}{2305}{1135}{\rP D_WORK_ORDER_TASK_NEST_KEY: bigint\\
\rA D_WORK_ORDER_TASK_KEY: bigint\\
\rS SOURCE_SYSTEM_NAME: varchar(100)\\
\rS SOURCE_SYSTEM_KEY: varchar(255)\\
\rS SOURCE_SYSTEM_KEY_VALUE: varchar(255)\\
\rA DM_INSERT_DT: datetime\\
\rA DM_UPDATE_DT: datetime\\
\rA WORK_ORDER_NAME: varchar(255)\\
\rA WORK_BANK_ITEM_NAME: varchar(255)\\
\rA RISK_ASSESSMENT_STATUS: varchar(1300)\\
\rA REQUIRED_ASSESSMENT: varchar(30)\\
\rA ASSESSMENT_PHASE: varchar(50)\\
\rA REASON_FOR_ASSESSMENT: varchar(30)\\
\rA REASON_FOR_OTHER: varchar(255)\\
\rA BSR_ASSESSMENT: varchar(30)\\
\rA REQUIRED_INSPECTION_TYPE: varchar(255)\\
\rA ASSESSOR_TO_DELIVER_INSPECTION_TYPE: varchar(30)\\
\rA ASSESSMENT_SCOPE_DETAILS: varchar(255)\\
\rA ASSESSMENT_CODE: varchar(30)\\
\rA PRIORITY_LEVEL: varchar(30)\\
\rA PRIORITY_RATIONALE: varchar(255)\\
\rA TARGET_DATE: datetime\\
\rA CHANGE_REQUEST_REFERENCE: varchar(255)\\
\rA RAILWAY_ID: varchar(30)\\
\rA ASSET_TYPE: varchar(30)\\
\rA PRIMARY_ELR: varchar(100)\\
\rA PRIMARY_MATERIAL: varchar(1300)\\
\rA START_MILEAGE: numeric(9,4)\\
\rA END_MILEAGE: numeric(9,4)\\
\rA OWNING_PARTY: varchar(30)\\
\rA ASSESSMENT_COMPLIANCE_DATE: datetime\\
\rA AT_RISK_OF_BRIDGE_STRIKE: varchar(30)\\
\rA MODERN_STRUCTURE_FLAG: varchar(30)\\
\rA IS_ASSESSMENT_GROUP: varchar(30)\\
\rA ASSESSMENT_COMPLETION_DATE: datetime\\
\rA RISK_ASSESSMENT_REQUIRED: varchar(max)\\
\rA ASSET_PROFILE_NAME: varchar(255)\\
\rA INTEGRATION_ID: varchar(30)\\
\rA ASSESSMENT_LEVEL: varchar(255)\\
\rA PRIORITIZATION_RISK_SCORE: numeric(18)\\
\rA IS_VOID: varchar(255)\\
\rA PRIMARY_ASSESSING_ORGANIZATION: varchar(max)\\
\rA CARRS_GUID: varchar(50)}
\dbpk{wo}{2305}{1135}{43}{\rK PK_DIM_WORK_ORDER_TASK_NEST(bigint)\\
\rI NCI_DIM_WORK_ORDER_TASK_NEST_TUNNING1(varchar)}

% ---------- DIM_ITEM_CAPABILITY_HISTORY
\dbbox{caph}{10}{1760}{433}{3022}{mag}{DIM_ITEM_CAPABILITY_HISTORY}{90}
\dbrows{caph}{10}{1760}{\rP D_ITEM_CAPABILITY_HISTORY_KEY: bigint\\
\rS D_ITEM_CAPABILITY_KEY: bigint\\
\rS SOURCE_SYSTEM_NAME: varchar(100)\\
\rS SOURCE_SYSTEM_KEY: varchar(255)\\
\rS SOURCE_SYSTEM_KEY_VALUE: varchar(255)\\
\rA DM_INSERT_DT: datetime\\
\rA DM_UPDATE_DT: datetime\\
\rS DM_ACTIVE_ROW_FLAG: varchar(1)\\
\rS DM_EFFECTIVE_FROM_DT: datetime\\
\rS DM_EFFECTIVE_TO_DT: datetime\\
\rS DM_MD5_CHECKSUM: varchar(32)\\
\rA DM_VERSION_NUMBER: int\\
\rA SCENARIO: varchar(50)\\
\rA RECORD_TYPE: varchar(50)\\
\rA IS_MAJOR_ELEMENT_SIGNIFICANT: varchar(5)\\
\rA IS_ASSET_SIGNIFICANT: varchar(5)\\
\rA TARGET_DATE: datetime\\
\rA TRACK_ID: int\\
\rA WIND_LOADING: varchar(50)\\
\rA SUITABLE_FOR_ABNORMAL_LOADING: varchar(5)\\
\rA TRACK_FACTOR: varchar(50)\\
\rA UTILIZATION_FACTOR: numeric(18,2)\\
\rA SPEED: numeric(18)\\
\rA UNIT_FOR_LATERAL_LOAD: varchar(50)\\
\rA SITE_VISIT_INVESTIGATION_DATE: datetime\\
\rA SIGNED_FORM_BA_DATE: datetime\\
\rA SIGNED_FORM_AA_DATE: datetime\\
\rA SECONDARY_FUNCTIONAL_LOADING_REQUIREMENT: varchar(50)\\
\rA SECONDARY_FUNCTIONAL_LOADING_DESCRIPTION: varchar(255)\\
\rA RESULTS_VALIDATION_RATIONAL: varchar(255)\\
\rA RESULTS_VALIDATION: varchar(5)\\
\rA RESULT_ID: int\\
\rA REQUIRED_CAPACITYKNM2: varchar(50)\\
\rA REASON_FOR_ASSESSMENT: varchar(50)\\
\rA QUALITATIVE_ASSESSMENT_PASS_FAIL: varchar(5)\\
\rA PRIORITY_RATIONALE: varchar(255)\\
\rA PRIORITY_LEVEL: varchar(255)\\
\rA PRIMARY_LOADING_FUNCTIONAL_REQUIREMENT_CHANGE_RATIONALE: varchar(500)\\
\rA PRIMARY_FUNCTIONAL_LOADING_REQUIREMENT: varchar(50)\\
\rA PRIMARY_FUNCTIONAL_LOADING_DESCRIPTION: varchar(255)\\
\rA PERFORM_NEW_INSPECTION: varchar(5)\\
\rA PARAPET_LOADING: varchar(50)\\
\rA OPEN_FOLLOW_UP_ACTION_COUNT: int\\
\rA MOST_SEVERE_RISK_SCORE: varchar(50)\\
\rA MINOR_ELEMENT_NAME: varchar(50)\\
\rA MANAGED_CAPACITYKNM2: varchar(50)\\
\rA MAJOR_ELEMENT_NAME: varchar(50)\\
\rA LAST_COMPLIANCE_ASSESSMENT_COMPLETION_DATE: datetime\\
\rA INSPECTION_TYPE: varchar(50)\\
\rA INSPECTION_COMMENCEMENT_DATE: datetime\\
\rA INFLUENCE_LINE_FOR_LOADED_LENGTH: varchar(50)\\
\rA HEAVY_AXLE_WEIGHT_RESTRICTED: varchar(50)\\
\rA HEAVY_AXLE_WEIGHT_PERMISSION: varchar(5)\\
\rA HEAVY_AXLE_WEIGHT_LOAD_TYPE: varchar(50)\\
\rA HB_CAPACITY: varchar(50)\\
\rA FUNCTIONAL_LOADING_CHANGE_RATIONALE: varchar(255)\\
\rA FORM_CODE: varchar(50)\\
\rA ELEMENT_TYPE: varchar(50)\\
\rA ELEMENT_SIGNIFICANT: varchar(5)\\
\rA ELEMENT_NAME: varchar(50)\\
\rA ELEMENT_MATERIAL: varchar(50)\\
\rA EFFECTIVE_LENGTH: varchar(50)\\
\rA DISTRIBUTED_LOAD_CAPACITY_UOM: varchar(50)\\
\rA DESIGN_LIFE_CHANGE_RATIONALE: varchar(255)\\
\rA CURRENT_ASSESSMENT: varchar(5)\\
\rA COMPLETION_DATE: datetime\\
\rA COMMENT: varchar(500)\\
\rA COINCIDENT_LONGITUDINAL_LOAD: varchar(50)\\
\rA COINCIDENT_LATERAL_LOAD: varchar(50)\\
\rA CATEGORY_LOADING: varchar(50)\\
\rA CAPACITY_TONNES: varchar(50)\\
\rA CAPACITY: numeric(18,2)\\
\rA CAPABILITY_STATUS: varchar(50)\\
\rA CAPABILITY_CATEGORY: varchar(50)\\
\rA CALCULATION_CHECKING_REQUIREMENT: varchar(50)\\
\rA BSR_RESULT: varchar(5)\\
\rA BSR_ASSESSMENT: varchar(5)\\
\rA ASSESSMENT_TYPE: varchar(50)\\
\rA ASSESSMENT_SUBJECT_TYPE: varchar(50)\\
\rA ASSESSMENT_SCOPE_DETAILS: varchar(500)\\
\rA ASSESSMENT_CALCULATION_CODE: varchar(50)\\
\rA ACTIVE_SPECIAL_PERMISSION_FOR_ABNORMAL_LOAD: varchar(5)\\
\rA ABNORMAL_LOADING_SV: varchar(50)\\
\rA ABNORMAL_LOADING_HB: numeric(18,2)\\
\rA PUBLISHED_RA: varchar(100)\\
\rA EQUIVALENT_MILLION_GROSS_TPA: numeric(18)\\
\rA PUBLISHED_LINE_SPEED: numeric(3)\\
\rA MAXIMUM_LINE_TONNAGE: numeric(18)\\
\rA PUBLISHED_LINE_SPEED_START_MILEAGE: numeric(7,4)\\
\rA PUBLISHED_LINE_SPEED_END_MILEAGE: numeric(7,4)}
\dbpk{caph}{10}{1760}{90}{\rK PK_DIM_ITEM_CAPABILITY_HISTORY(bigint)}

% ---------- DIM_ITEM_CAPABILITY
\dbbox{cap}{602}{1675}{1023}{2859}{lav}{DIM_ITEM_CAPABILITY}{84}
\dbrows{cap}{602}{1675}{\rP D_ITEM_CAPABILITY_KEY: bigint\\
\rS SOURCE_SYSTEM_NAME: varchar(100)\\
\rS SOURCE_SYSTEM_KEY: varchar(255)\\
\rS SOURCE_SYSTEM_KEY_VALUE: varchar(255)\\
\rA DM_INSERT_DT: datetime\\
\rA DM_UPDATE_DT: datetime\\
\rA SCENARIO: varchar(50)\\
\rA RECORD_TYPE: varchar(50)\\
\rA IS_MAJOR_ELEMENT_SIGNIFICANT: varchar(5)\\
\rA IS_ASSET_SIGNIFICANT: varchar(5)\\
\rA WIND_LOADING: varchar(50)\\
\rA UTILIZATION_FACTOR: numeric(18,2)\\
\rA UNIT_FOR_LATERAL_LOAD: varchar(50)\\
\rA TRACK_ID: int\\
\rA TRACK_FACTOR: varchar(50)\\
\rA TARGET_DATE: datetime\\
\rA SUITABLE_FOR_ABNORMAL_LOADING: varchar(5)\\
\rA SPEED: numeric(18)\\
\rA SITE_VISIT_INVESTIGATION_DATE: datetime\\
\rA SIGNED_FORM_BA_DATE: datetime\\
\rA SIGNED_FORM_AA_DATE: datetime\\
\rA SECONDARY_FUNCTIONAL_LOADING_REQUIREMENT: varchar(50)\\
\rA SECONDARY_FUNCTIONAL_LOADING_DESCRIPTION: varchar(255)\\
\rA RESULTS_VALIDATION_RATIONAL: varchar(255)\\
\rA RESULTS_VALIDATION: varchar(5)\\
\rA RESULT_ID: int\\
\rA REQUIRED_CAPACITYKNM2: varchar(50)\\
\rA REASON_FOR_ASSESSMENT: varchar(50)\\
\rA QUALITATIVE_ASSESSMENT_PASS_FAIL: varchar(5)\\
\rA PRIORITY_RATIONALE: varchar(255)\\
\rA PRIORITY_LEVEL: varchar(255)\\
\rA PRIMARY_LOADING_FUNCTIONAL_REQUIREMENT_CHANGE_RATIONALE: varchar(500)\\
\rA PRIMARY_FUNCTIONAL_LOADING_REQUIREMENT: varchar(50)\\
\rA PRIMARY_FUNCTIONAL_LOADING_DESCRIPTION: varchar(255)\\
\rA PERFORM_NEW_INSPECTION: varchar(5)\\
\rA PARAPET_LOADING: varchar(50)\\
\rA OPEN_FOLLOW_UP_ACTION_COUNT: int\\
\rA MOST_SEVERE_RISK_SCORE: varchar(50)\\
\rA MINOR_ELEMENT_NAME: varchar(50)\\
\rA MANAGED_CAPACITYKNM2: varchar(50)\\
\rA MAJOR_ELEMENT_NAME: varchar(50)\\
\rA LAST_COMPLIANCE_ASSESSMENT_COMPLETION_DATE: datetime\\
\rA INSPECTION_TYPE: varchar(50)\\
\rA INSPECTION_COMMENCEMENT_DATE: datetime\\
\rA INFLUENCE_LINE_FOR_LOADED_LENGTH: varchar(50)\\
\rA HEAVY_AXLE_WEIGHT_RESTRICTED: varchar(50)\\
\rA HEAVY_AXLE_WEIGHT_PERMISSION: varchar(5)\\
\rA HEAVY_AXLE_WEIGHT_LOAD_TYPE: varchar(50)\\
\rA HB_CAPACITY: varchar(50)\\
\rA FUNCTIONAL_LOADING_CHANGE_RATIONALE: varchar(255)\\
\rA FORM_CODE: varchar(50)\\
\rA ELEMENT_TYPE: varchar(50)\\
\rA ELEMENT_SIGNIFICANT: varchar(5)\\
\rA ELEMENT_NAME: varchar(50)\\
\rA ELEMENT_MATERIAL: varchar(50)\\
\rA EFFECTIVE_LENGTH: varchar(50)\\
\rA DISTRIBUTED_LOAD_CAPACITY_UOM: varchar(50)\\
\rA DESIGN_LIFE_CHANGE_RATIONALE: varchar(255)\\
\rA CURRENT_ASSESSMENT: varchar(5)\\
\rA COMPLETION_DATE: datetime\\
\rA COMMENT: varchar(500)\\
\rA COINCIDENT_LONGITUDINAL_LOAD: varchar(50)\\
\rA COINCIDENT_LATERAL_LOAD: varchar(50)\\
\rA CATEGORY_LOADING: varchar(50)\\
\rA CAPACITY_TONNES: varchar(50)\\
\rA CAPACITY: numeric(18,2)\\
\rA CAPABILITY_STATUS: varchar(50)\\
\rA CAPABILITY_CATEGORY: varchar(50)\\
\rA CALCULATION_CHECKING_REQUIREMENT: varchar(50)\\
\rA BSR_RESULT: varchar(5)\\
\rA BSR_ASSESSMENT: varchar(5)\\
\rA ASSESSMENT_TYPE: varchar(50)\\
\rA ASSESSMENT_SUBJECT_TYPE: varchar(50)\\
\rA ASSESSMENT_SCOPE_DETAILS: varchar(500)\\
\rA ASSESSMENT_CALCULATION_CODE: varchar(50)\\
\rA ACTIVE_SPECIAL_PERMISSION_FOR_ABNORMAL_LOAD: varchar(5)\\
\rA ABNORMAL_LOADING_SV: varchar(50)\\
\rA ABNORMAL_LOADING_HB: numeric(18,2)\\
\rA PUBLISHED_RA: varchar(100)\\
\rA EQUIVALENT_MILLION_GROSS_TPA: numeric(18)\\
\rA PUBLISHED_LINE_SPEED: numeric(3)\\
\rA MAXIMUM_LINE_TONNAGE: numeric(18)\\
\rA PUBLISHED_LINE_SPEED_START_MILEAGE: numeric(7,4)\\
\rA PUBLISHED_LINE_SPEED_END_MILEAGE: numeric(7,4)}
\dbpk{cap}{602}{1675}{84}{\rK PK_DIM_ITEM_CAPABILITY(bigint)}

% ---------- DIM_ITEM_CONDITION_RECORD_NEST_HISTORY
\dbbox{condh}{1208}{2457}{1573}{3575}{mag}{DIM_ITEM_CONDITION_RECORD_NEST_HISTORY}{80}
\dbrows{condh}{1208}{2457}{\rP D_ITEM_CONDITION_RECORD_NEST_HISTORY_KEY: bigint\\
\rS D_ITEM_CONDITION_RECORD_NEST_KEY: bigint\\
\rA D_CONDITION_RECORD_KEY: bigint\\
\rA LAST_INSPECTION_TYPE: varchar(255)\\
\rA ASSESSMENT_INTERVAL: numeric(3)\\
\rA MIN_ASSESSMENT_INTERVAL: numeric(3)\\
\rA LAST_PEER_REVIEW_DATE: datetime\\
\rA INTEGRATION_ID: varchar(255)\\
\rS SOURCE_SYSTEM_NAME: varchar(100)\\
\rS SOURCE_SYSTEM_KEY: varchar(255)\\
\rS SOURCE_SYSTEM_KEY_VALUE: varchar(255)\\
\rA DM_INSERT_DT: datetime\\
\rA DM_UPDATE_DT: datetime\\
\rS DM_EFFECTIVE_FROM_DT: datetime\\
\rS DM_ACTIVE_ROW_FLAG: varchar(1)\\
\rS DM_EFFECTIVE_TO_DT: datetime\\
\rA OVERRIDE_REASON_FOR_ASSESSMENT_INTERVAL: varchar(255)\\
\rS DM_MD5_CHECKSUM: varchar(32)\\
\rA APPRAISED_CATEGORY: varchar(255)\\
\rA ASSESSED_CATEGORY: varchar(255)\\
\rA COMPLETION_COMPLIANCE_DATE: datetime\\
\rA ASSESSED_LOAD_CAPACITY: numeric(6,2)\\
\rA ASSESSMENT_INTERVAL_USER_PROVIDED: varchar(255)\\
\rA DM_VERSION_NUMBER: int\\
\rA APPRAISED_LOAD_CAPACITY: numeric(6,2)\\
\rA CHANGE_CATEGORY: varchar(255)\\
\rA CHANGE_CODE: varchar(255)\\
\rA COMPLETION_COMPLIANCE_STATUS: varchar(255)\\
\rA DETAILED_EXAMINATION_INTERVAL: varchar(255)\\
\rA DE_MULTIPLIER: numeric(2)\\
\rA FURTHER_ASSESSMENT_COMPLETION_COMPLIANCE: varchar(255)\\
\rA LAST_ASSESSMENT_COMPLETION_DATE: datetime\\
\rA LAST_ASSESSMENT_LEVEL: varchar(255)\\
\rA LAST_BS_ASSESSMENT_SIGNED_FORM_BA: varchar(255)\\
\rA LAST_BS_ASSESSMENT_WO_ID: varchar(255)\\
\rA LAST_BS_ASSESSMENT_WO_NAME: varchar(255)\\
\rA LAST_BS_ASS_ASSESMENT_COMPLETION_DATE: datetime\\
\rA LAST_BS_ASSESSMENT_FINAL_ACCEPTED_DATE: datetime\\
\rA LAST_BS_ASSESSMENT_INSPECTION_SITE_DATE: datetime\\
\rA LAST_BS_ASSESSMENT_SIGNED_FORM_AA_BY_AE: varchar(255)\\
\rA LAST_BS_ASSESSMENT_SIGNED_PEER_REVIEW_FORM: varchar(255)\\
\rA LAST_FURTHER_ASSESMENT_SIGNED_FORM_BA: datetime\\
\rA LAST_FURTHER_ASSESSMENT_WO_ID: varchar(255)\\
\rA LAST_FURTHER_ASSESSMENT_WO_NAME: varchar(255)\\
\rA LAST_FURTHER_ASS_ASSESSMENT_COMPLETION_DATE: datetime\\
\rA LAST_FURTHER_ASSESSMENT_FINAL_ACCEPTED_DATE: datetime\\
\rA LAST_FURTHER_ASSESSMENT_INSPECTION_SITE_DATE: datetime\\
\rA LAST_FURTHER_ASSESSMENT_SIGNED_FORM_AA_BY_AE: varchar(255)\\
\rA LAST_INSPECTION_DATE: datetime\\
\rA LAST_LIABILITY_ASSESSMENT_WO_ID: varchar(255)\\
\rA LAST_LIABILITY_ASSESSMENT_WO_NAME: varchar(255)\\
\rA LAST_LIABILITY_ASSESSMENT_SIGNED_FORM_BY_AE: datetime\\
\rA MIN_DETAILED_EXAMINATION_INTERVAL: numeric(2)\\
\rA MIN_DE_MULTIPLIER: numeric(2)\\
\rA NOTES: varchar(max)\\
\rA OVERRIDE_REASON_FOR_DE_MULTIPLIER: varchar(255)\\
\rA RENEWAL_COMPLIANCE_STATUS: varchar(255)\\
\rA RISK_ASSESSMENT_STATUS: varchar(255)\\
\rA SITE_COMPLIANCE_STATUS: varchar(255)\\
\rA FUR_ASSESSMENT_COMPLETION_COMPLIANCE_STATUS: varchar(255)\\
\rA FUR_ASSESSMENT_COMPLETION_COMPLIANCE_DATE: datetime\\
\rA LAST_BS_ASS_ASSESSMENT_COMPLETION_DATE: datetime\\
\rA LAST_LIABILITY_ASS_ASSESSMENT_COMPLETION_DATE: datetime\\
\rA LAST_FUR_ASSESSMENT_REASON_FOR_ASMT: varchar(255)\\
\rA LAST_BS_ASSESSMENT_REASON_FOR_ASSESSMENT: varchar(255)\\
\rA LAST_LIABILITY_ASSESSMENT_REASON_FOR_ASMT: varchar(255)\\
\rA LAST_LIABILITY_ASSESSMENT_INSPECTION_SITE_DATE: datetime\\
\rA LAST_FURTHER_ASSESSMENT_INSPECTION_SITE_TYPE: varchar(255)\\
\rA LAST_BS_ASSESSMENT_INSPECTION_SITE_TYPE: varchar(255)\\
\rA LAST_LIABILITY_ASSESSMENT_INSPECTION_SITE_TYPE: varchar(255)\\
\rA LAST_LIABILITY_ASSESSMENT_WORK_ORDER_ID: varchar(255)\\
\rA LAST_LIABILITY_ASSESSMENT_FINAL_ACCEPTED_DATE: datetime\\
\rA LAST_FURTHER_ASSESSMENT_SIGNED_FORM_BA: varchar(255)\\
\rA LAST_LIABILITY_ASSESSMENT_SIGNED_FORM_BA: varchar(255)\\
\rA LAST_LIABILITY_ASSESSMENT_SIGNED_FORM_AA_BY_AE: varchar(255)\\
\rA LAST_FURTHER_ASSESSMENT_WORK_ORDER_ID: varchar(255)\\
\rA LAST_BS_ASSESSMENT_WORK_ORDER_ID: varchar(255)\\
\rA SUBSTANDARD_FLAG: varchar(5)\\
\rA ASSESSMENT_BLANK_VALUE: varchar(50)\\
\rA LAST_BS_ASSESSMENT_SIGNED_PEER_REVIEW_FORM_DT: datetime}
\dbpk{condh}{1208}{2457}{80}{\rK PK_DIM_ITEM_CONDITION_RECORD_NEST_HISTORY(bigint)}

\end{tikzpicture}
\end{document}
